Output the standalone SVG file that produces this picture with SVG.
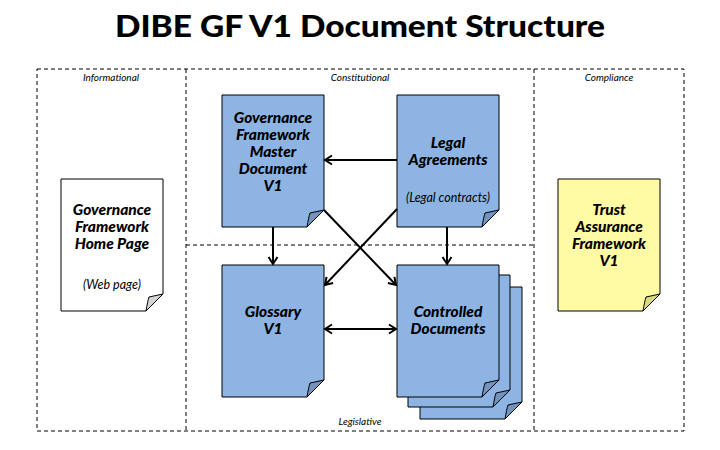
<svg xmlns="http://www.w3.org/2000/svg" width="720" height="450" viewBox="0 0 720 450">
<style>
.zone{fill:none;stroke:#000;stroke-width:1;stroke-dasharray:4 3}
.zl{font-family:Lato,"Liberation Sans",sans-serif;font-style:italic;font-size:10px;fill:#000;text-anchor:middle}
.doc{stroke:#000;stroke-width:1}
.blue{fill:#8DB4E2}
.bfold{fill:#7392BC}
.yel{fill:#FFFAA3}
.yfold{fill:#DCD97C}
.wht{fill:#fff}
.wfold{fill:#D4D4D4}
.t{font-family:Lato,"Liberation Sans",sans-serif;font-style:italic;font-weight:900;font-size:15.5px;fill:#000;text-anchor:middle}
.s{font-family:Lato,"Liberation Sans",sans-serif;font-style:italic;font-size:12.5px;fill:#000;text-anchor:middle}
.c{fill:none;stroke:#000;stroke-width:2;marker-end:url(#arr)}
</style>
<defs>
<marker id="arr" markerUnits="userSpaceOnUse" markerWidth="12" markerHeight="12" refX="9" refY="6" orient="auto-start-reverse">
<path d="M2,1.5 L9,6 L2,10.5" fill="none" stroke="#000" stroke-width="2"/>
</marker>
<path id="body" d="M0,0 H102 V115 L85,132 H0 Z"/>
<path id="fold" d="M85,132 C86,126 87,121 88,118 L102,115 Z"/>
</defs>
<rect width="720" height="450" fill="#fff"/>
<text x="360" y="37" font-family="Lato,'Liberation Sans',sans-serif" font-weight="900" font-size="31" text-anchor="middle" fill="#000" textLength="490" lengthAdjust="spacingAndGlyphs">DIBE GF V1 Document Structure</text>

<g id="zones">
<rect class="zone" x="37" y="69" width="647" height="362"/>
<line class="zone" x1="186" y1="69" x2="186" y2="431"/>
<line class="zone" x1="534" y1="69" x2="534" y2="431"/>
<line class="zone" x1="186" y1="245" x2="534" y2="245"/>
<text class="zl" x="111" y="81">Informational</text>
<text class="zl" x="360" y="81">Constitutional</text>
<text class="zl" x="609" y="81">Compliance</text>
<text class="zl" x="360" y="425">Legislative</text>
</g>

<g id="home" transform="translate(61,179)">
<use href="#body" class="doc wht"/>
<use href="#fold" class="doc wfold"/>
<text class="t" x="51" y="36">Governance</text>
<text class="t" x="51" y="53">Framework</text>
<text class="t" x="51" y="70">Home Page</text>
<text class="s" x="51" y="110">(Web page)</text>
</g>

<g id="master" transform="translate(222,95)">
<use href="#body" class="doc blue"/>
<use href="#fold" class="doc bfold"/>
<text class="t" x="51" y="28">Governance</text>
<text class="t" x="51" y="45">Framework</text>
<text class="t" x="51" y="62">Master</text>
<text class="t" x="51" y="79">Document</text>
<text class="t" x="51" y="96">V1</text>
</g>

<g id="legal" transform="translate(397,95)">
<use href="#body" class="doc blue"/>
<use href="#fold" class="doc bfold"/>
<text class="t" x="51" y="53">Legal</text>
<text class="t" x="51" y="70">Agreements</text>
<text class="s" x="51" y="107">(Legal contracts)</text>
</g>

<g id="glossary" transform="translate(222,265)">
<use href="#body" class="doc blue"/>
<use href="#fold" class="doc bfold"/>
<text class="t" x="51" y="52">Glossary</text>
<text class="t" x="51" y="69">V1</text>
</g>

<g id="controlled">
<g transform="translate(420,287)">
<use href="#body" class="doc blue"/>
<use href="#fold" class="doc bfold"/>
</g>
<g transform="translate(408,275)">
<use href="#body" class="doc blue"/>
<use href="#fold" class="doc bfold"/>
</g>
<g transform="translate(397,265)">
<use href="#body" class="doc blue"/>
<use href="#fold" class="doc bfold"/>
<text class="t" x="51" y="52">Controlled</text>
<text class="t" x="51" y="69">Documents</text>
</g>
</g>

<g id="trust" transform="translate(558,179)">
<use href="#body" class="doc yel"/>
<use href="#fold" class="doc yfold"/>
<text class="t" x="51" y="36">Trust</text>
<text class="t" x="51" y="53">Assurance</text>
<text class="t" x="51" y="70">Framework</text>
<text class="t" x="51" y="87">V1</text>
</g>

<g id="connectors">
<line class="c" x1="397" y1="160" x2="325" y2="160"/>
<line class="c" x1="273" y1="227" x2="273" y2="264"/>
<line class="c" x1="447" y1="227" x2="447" y2="264"/>
<line class="c" x1="324" y1="210" x2="396" y2="285"/>
<line class="c" x1="397" y1="209" x2="325" y2="285"/>
<line class="c" x1="325" y1="329" x2="396" y2="329" style="marker-start:url(#arr)"/>
</g>
</svg>
